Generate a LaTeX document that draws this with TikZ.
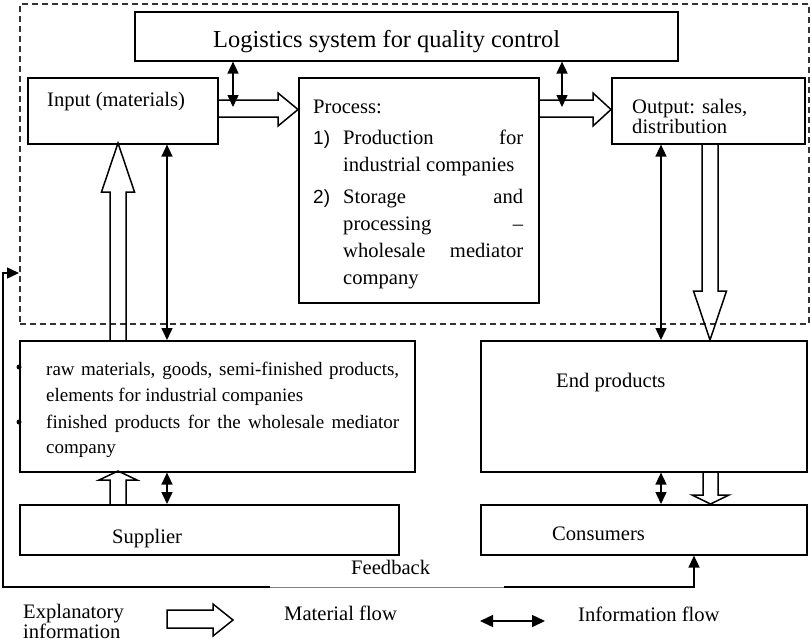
\documentclass[tikz,border=0pt]{standalone}
\usepackage{fontspec}
\setmainfont{Liberation Serif}
\newfontfamily\arialf{Liberation Sans}
\usetikzlibrary{arrows.meta}
\begin{document}
\begin{tikzpicture}[x=1pt,y=-1pt,
  box/.style={draw, line width=1.6pt, inner sep=0pt, anchor=north west},
  frm/.style={draw, line width=1.5pt, dash pattern=on 6pt off 4pt, inner sep=0pt, anchor=north west, draw=black!80},
  lbl/.style={inner sep=0pt, anchor=base west, font=\fontsize{20.6}{24}\selectfont},
  rawlbl/.style={inner sep=0pt, anchor=base west, font=\fontsize{19}{22}\selectfont},
  numlbl/.style={inner sep=0pt, anchor=base west, font=\arialf\fontsize{19}{22}\selectfont},
  infotip/.tip={Triangle[length=12pt,width=11pt]},
  bigtip/.tip={Triangle[length=13pt,width=12pt]},
  info/.style={line width=1.5pt, infotip-infotip},
  hollow/.style={draw, line width=1.5pt, line join=miter},
  dot/.style={circle, fill, inner sep=0pt, minimum size=5pt}
]
\useasboundingbox (0,0) rectangle (810,641);

% frame and boxes
\node[frm, minimum width=789pt, minimum height=320pt] (frame) at (19,3) {};
\node[box, minimum width=543pt, minimum height=49pt] (log) at (134,11) {};
\node[box, minimum width=190pt, minimum height=66pt] (inp) at (27,77) {};
\node[box, minimum width=240pt, minimum height=225pt] (proc) at (298,77) {};
\node[box, minimum width=193pt, minimum height=66pt] (outp) at (611,77) {};
\node[box, minimum width=395pt, minimum height=131pt] (raw) at (19,340) {};
\node[box, minimum width=326pt, minimum height=131pt] (endp) at (480,340) {};
\node[box, minimum width=379pt, minimum height=50pt] (sup) at (19,504) {};
\node[box, minimum width=326pt, minimum height=50pt] (cons) at (480,504) {};

% texts
\node[lbl, font=\fontsize{24.4}{28}\selectfont] (tlog) at (213,47) {Logistics system for quality control};
\node[lbl] (tinp) at (47,106) {Input (materials)};
\node[lbl] (tproc) at (313,113) {Process:};
\node[numlbl] (n1) at (313,144) {1)};
\node[lbl] (p1) at (343,144) {\makebox[180pt][s]{Production for}};
\node[lbl] (p2) at (343,171) {industrial companies};
\node[numlbl] (n2) at (313,203) {2)};
\node[lbl] (p3) at (343,203) {\makebox[180pt][s]{Storage and}};
\node[lbl] (p4) at (343,230) {\makebox[180pt][s]{processing –}};
\node[lbl] (p5) at (343,257) {\makebox[180pt][s]{wholesale mediator}};
\node[lbl] (p6) at (343,284) {company};
\node[lbl] (to1) at (632,113) {Output: sales,};
\node[lbl] (to2) at (632,133) {distribution};
\node[rawlbl] (r1) at (46,375) {\makebox[353pt][s]{raw materials, goods, semi-finished products,}};
\node[rawlbl] (r2) at (46,401) {elements for industrial companies};
\node[rawlbl] (r3) at (46,428) {\makebox[353pt][s]{finished products for the wholesale mediator}};
\node[rawlbl] (r4) at (46,453) {company};
\node[dot] (b1) at (19,367) {};
\node[dot] (b2) at (19,422) {};
\node[lbl] (tend) at (556,387) {End products};
\node[lbl] (tsup) at (112,543) {Supplier};
\node[lbl] (tcons) at (552,540) {Consumers};
\node[lbl] (tfb) at (351,574) {Feedback};
\node[lbl] (tex1) at (23,618) {Explanatory};
\node[lbl] (tex2) at (23,638) {information};
\node[lbl] (tmat) at (284,620) {Material flow};
\node[lbl] (tinf) at (578,621) {Information flow};

% material flow (hollow arrows)
\draw[hollow] (217,100) -- (278,100) -- (278,93) -- (298,109.5) -- (278,126) -- (278,117) -- (217,117);
\draw[hollow] (538,100) -- (593,100) -- (593,93) -- (611,109.5) -- (593,126) -- (593,117) -- (538,117);
\draw[hollow] (110,340) -- (110,192) -- (101.5,192) -- (118,143) -- (134.5,192) -- (126,192) -- (126,340);
\draw[hollow] (702,143) -- (702,291) -- (693.5,291) -- (710,340) -- (726.5,291) -- (718,291) -- (718,143);
\draw[hollow] (110,504) -- (110,480) -- (99,480) -- (118,471) -- (137,480) -- (126,480) -- (126,504);
\draw[hollow] (703,471) -- (703,495) -- (692,495) -- (710.5,504) -- (729,495) -- (718,495) -- (718,471);
\draw[hollow] (167,610) -- (213,610) -- (213,604) -- (233,620) -- (213,636) -- (213,628) -- (167,628) -- cycle;

% information flow
\coordinate (c1) at (233,107);
\coordinate (c2) at (562,107);
\coordinate (c3) at (167,0);
\coordinate (c4) at (661,0);
\draw[info] (log.south -| c1) -- (c1);
\draw[info] (log.south -| c2) -- (c2);
\draw[info] (inp.south -| c3) -- (raw.north -| c3);
\draw[info] (outp.south -| c4) -- (endp.north -| c4);
\draw[info] (raw.south -| c3) -- (sup.north -| c3);
\draw[info] (endp.south -| c4) -- (cons.north -| c4);

% feedback
\coordinate (f1) at (694,587);
\coordinate (f2) at (504,587);
\coordinate (f3) at (270,587);
\coordinate (f4) at (3,587);
\coordinate (f5) at (3,273);
\draw[line width=1.5pt, -infotip] (f2) -- (f1) -- (cons.south -| f1);
\draw[line width=0.7pt, gray] (f2) -- (f3);
\draw[line width=1.5pt, -infotip] (f3) -- (f4) -- (f5) -- (frame.west |- f5);

% legend information arrow
\coordinate (l1) at (480,621);
\coordinate (l2) at (545,621);
\draw[line width=1.5pt, bigtip-bigtip] (l1) -- (l2);
\end{tikzpicture}
\end{document}
